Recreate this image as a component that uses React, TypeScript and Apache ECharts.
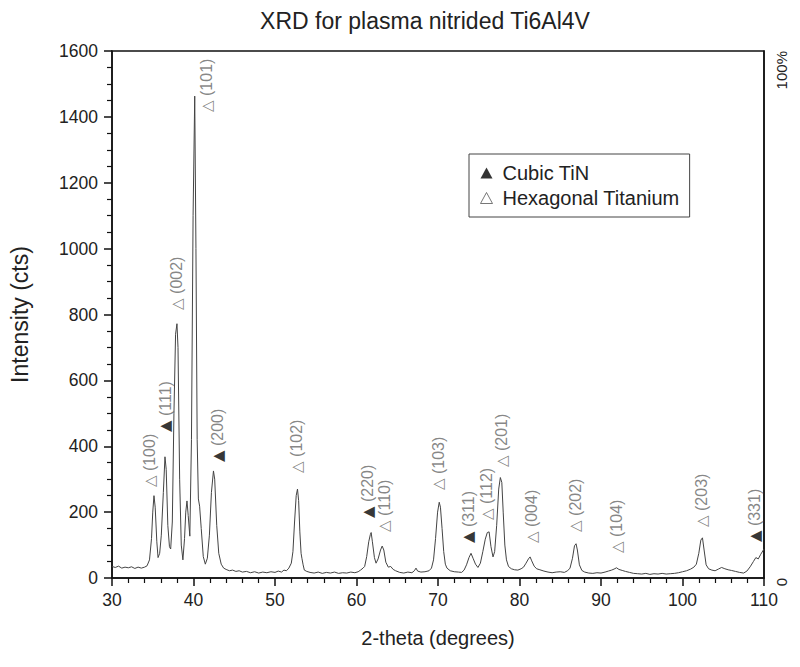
import React, { useEffect, useRef } from "react";
import * as echarts from "echarts";

// ---- Diffractogram (2-theta in degrees, intensity in counts) ----
const twoTheta = [
  30.0, 30.4, 30.8, 31.2, 31.6, 32.0, 32.4, 32.8, 33.2, 33.6, 34.0, 34.3, 34.6, 34.85, 35.0, 35.15, 35.3, 35.5, 35.65, 35.85,
  36.05, 36.3, 36.5, 36.65, 36.85, 37.05, 37.2, 37.4, 37.6, 37.8, 37.97, 38.1, 38.3, 38.5, 38.7, 38.9, 39.05, 39.2, 39.35, 39.55,
  39.75, 39.95, 40.15, 40.3, 40.45, 40.6, 40.75, 40.95, 41.2, 41.45, 41.7, 41.95, 42.2, 42.45, 42.6, 42.85, 43.1, 43.4, 43.7, 44.0,
  44.4, 44.8, 45.2, 45.6, 46.0, 46.5, 47.0, 47.5, 48.0, 48.5, 49.0, 49.5, 50.0, 50.4, 50.8, 51.1, 51.4, 51.7, 52.0, 52.2,
  52.4, 52.6, 52.76, 52.9, 53.05, 53.2, 53.3, 53.45, 53.6, 53.9, 54.3, 54.8, 55.3, 55.8, 56.3, 56.8, 57.3, 57.8, 58.3, 58.8,
  59.3, 59.8, 60.2, 60.5, 60.8, 61.0, 61.25, 61.5, 61.7, 61.8, 61.95, 62.2, 62.4, 62.65, 62.95, 63.15, 63.35, 63.6, 63.9, 64.2,
  64.5, 64.8, 65.3, 65.8, 66.3, 66.8, 67.1, 67.3, 67.5, 67.9, 68.4, 68.9, 69.2, 69.45, 69.7, 69.95, 70.15, 70.3, 70.5, 70.7,
  70.9, 71.1, 71.5, 72.0, 72.5, 72.9, 73.2, 73.5, 73.8, 74.05, 74.3, 74.6, 74.9, 75.2, 75.5, 75.8, 76.05, 76.27, 76.5, 76.75,
  76.95, 77.2, 77.45, 77.65, 77.83, 78.0, 78.2, 78.4, 78.65, 79.0, 79.4, 79.8, 80.2, 80.5, 80.8, 81.1, 81.3, 81.5, 81.8, 82.1,
  82.5, 83.0, 83.5, 84.0, 84.5, 85.0, 85.5, 85.9, 86.2, 86.5, 86.75, 86.94, 87.1, 87.35, 87.65, 88.0, 88.5, 89.0, 89.5, 90.0,
  90.5, 90.9, 91.3, 91.6, 91.9, 92.2, 92.6, 93.0, 93.5, 94.0, 94.5, 95.0, 95.5, 96.0, 96.5, 97.0, 97.5, 98.0, 98.5, 99.0,
  99.5, 100.0, 100.5, 101.0, 101.4, 101.7, 102.0, 102.25, 102.45, 102.65, 102.9, 103.2, 103.6, 104.0, 104.4, 104.8, 105.2, 105.6, 106.0, 106.5,
  107.0, 107.5, 107.9, 108.3, 108.7, 109.0, 109.3, 109.6, 110.0,
];
const counts = [
  35, 32, 36, 30, 33, 31, 34, 29, 33, 30, 33, 37, 55, 120, 200, 250, 215, 110, 62, 75,
  130, 260, 368, 330, 160, 95, 88, 170, 500, 740, 772, 700, 300, 100, 55, 120, 200, 234, 190, 127,
  420, 1100, 1463, 1000, 420, 240, 218, 150, 65, 42, 60, 130, 260, 325, 300, 160, 75, 42, 30, 26,
  22, 24, 20, 22, 18, 20, 16, 19, 15, 18, 16, 19, 17, 21, 18, 24, 22, 30, 45, 80,
  170, 250, 270, 235, 140, 75, 60, 40, 24, 20, 17, 15, 18, 14, 17, 15, 18, 14, 16, 15,
  18, 16, 19, 24, 30, 35, 65, 110, 132, 138, 110, 62, 45, 58, 85, 97, 85, 48, 33, 35,
  26, 22, 17, 15, 18, 16, 22, 30, 21, 18, 19, 22, 30, 55, 120, 200, 230, 215, 150, 80,
  42, 30, 22, 19, 18, 17, 24, 40, 62, 75, 60, 42, 32, 45, 80, 118, 138, 140, 95, 64,
  80, 160, 270, 305, 290, 200, 100, 55, 35, 28, 25, 24, 28, 33, 45, 58, 64, 52, 36, 28,
  25, 21, 18, 16, 18, 19, 17, 22, 30, 60, 98, 104, 85, 40, 23, 18, 15, 14, 16, 15,
  18, 21, 24, 27, 31, 26, 23, 20, 17, 14, 13, 12, 14, 11, 13, 12, 14, 12, 13, 14,
  16, 19, 22, 27, 33, 42, 75, 115, 122, 85, 40, 28, 24, 22, 27, 32, 28, 25, 23, 20,
  17, 15, 21, 34, 50, 62, 58, 72, 88,
];

// ---- Peak annotations (label base in data units) ----
const cubicTheta = [36.54, 42.95, 61.35, 73.74, 108.89];
const cubicLabelAt = [443, 352, 182, 106, 109];
const cubicLabels = ["(111)", "(200)", "(220)", "(311)", "(331)"];

const hexTheta = [34.61, 37.95, 41.6, 52.69, 63.43, 70.06, 75.99, 77.83, 81.51, 86.82, 91.93, 102.36];
const hexLabelAt = [276, 814, 1415, 319, 140, 267, 176, 337, 106, 140, 76, 155];
const hexLabels = ["(100)", "(002)", "(101)", "(102)", "(110)", "(103)", "(112)", "(201)", "(004)", "(202)", "(104)", "(203)"];

const xTicks = { min: 30, max: 110, interval: 10 };
const yTicks = { min: 0, max: 1600, interval: 200 };

const FONT = "Liberation Sans, Arial, sans-serif";
const AXIS_COLOR = "#111";
const LABEL_GRAY = "#666";

export default function App() {
  const ref = useRef<HTMLDivElement>(null);

  useEffect(() => {
    if (!ref.current) return;
    const chart = echarts.init(ref.current, null, { renderer: "svg" });

    const lineData = twoTheta.map((t, i) => [t, counts[i]]);

    const peakLabel = {
      show: true,
      position: "inside",
      rotate: 90,
      align: "left",
      verticalAlign: "middle",
      rich: {
        t: { color: "#000", fontSize: 15, fontFamily: "DejaVu Sans" },
        h: { color: LABEL_GRAY, fontSize: 15, fontFamily: "DejaVu Sans" },
        l: { color: LABEL_GRAY, fontSize: 16, fontFamily: FONT },
      },
    };

    const option: any = {
      animation: false,
      backgroundColor: "#fff",
      title: {
        text: "XRD for plasma nitrided Ti6Al4V",
        left: 420,
        top: 4,
        textAlign: "center",
        textStyle: { fontFamily: FONT, fontSize: 23, fontWeight: "normal", color: "#222" },
      },
      legend: {
        orient: "vertical",
        left: 469,
        top: 154,
        padding: [9, 10, 9, 11],
        borderColor: "#444",
        borderWidth: 1,
        itemWidth: 12,
        itemHeight: 11,
        itemGap: 5,
        selectedMode: false,
        textStyle: { fontFamily: FONT, fontSize: 20, color: "#222", padding: [0, 0, 0, 5] },
        data: [
          { name: "Cubic TiN", icon: "triangle", itemStyle: { color: "#000", borderWidth: 0 } },
          {
            name: "Hexagonal Titanium",
            icon: "triangle",
            itemStyle: { color: "#fff", borderColor: "#555", borderWidth: 1 },
          },
        ],
      },
      grid: {
        left: 112,
        right: 36,
        top: 51,
        bottom: 89,
        show: true,
        borderColor: AXIS_COLOR,
        borderWidth: 1.5,
        backgroundColor: "transparent",
      },
      xAxis: {
        type: "value",
        min: xTicks.min,
        max: xTicks.max,
        interval: xTicks.interval,
        name: "2-theta (degrees)",
        nameLocation: "middle",
        nameGap: 50,
        nameTextStyle: { fontFamily: FONT, fontSize: 20, color: "#222" },
        axisLine: { onZero: false, lineStyle: { color: AXIS_COLOR, width: 1.5 } },
        axisTick: { length: 8, lineStyle: { color: AXIS_COLOR, width: 1.5 } },
        minorTick: { show: true, splitNumber: 5, length: 5, lineStyle: { color: AXIS_COLOR, width: 1.2 } },
        splitLine: { show: false },
        axisLabel: { margin: 13, fontFamily: FONT, fontSize: 17.5, color: "#222" },
      },
      yAxis: [
        {
          type: "value",
          min: yTicks.min,
          max: yTicks.max,
          interval: yTicks.interval,
          name: "Intensity (cts)",
          nameLocation: "middle",
          nameGap: 81,
          nameTextStyle: { fontFamily: FONT, fontSize: 23, color: "#222" },
          axisLine: { show: true, lineStyle: { color: AXIS_COLOR, width: 1.5 } },
          axisTick: { length: 8, lineStyle: { color: AXIS_COLOR, width: 1.5 } },
          minorTick: { show: true, splitNumber: 4, length: 5, lineStyle: { color: AXIS_COLOR, width: 1.2 } },
          splitLine: { show: false },
          axisLabel: {
            margin: 14,
            fontFamily: FONT,
            fontSize: 17.5,
            color: "#222",
            formatter: (v: number) => String(v),
          },
        },
        {
          type: "value",
          position: "right",
          min: 0,
          max: 100,
          interval: 100,
          axisLine: { show: true, lineStyle: { color: AXIS_COLOR, width: 1.5 } },
          axisTick: { show: false },
          splitLine: { show: false },
          axisLabel: {
            rotate: 90,
            margin: 10,
            align: "right",
            verticalAlign: "top",
            showMinLabel: true,
            showMaxLabel: true,
            fontFamily: FONT,
            fontSize: 15,
            color: "#222",
            formatter: (v: number) => (v === 100 ? "100%" : "0"),
          },
        },
      ],
      series: [
        {
          type: "line",
          name: "XRD",
          data: lineData,
          showSymbol: false,
          symbol: "none",
          lineStyle: { color: "#444", width: 1 },
          z: 2,
          silent: true,
        },
        {
          type: "scatter",
          name: "Cubic TiN",
          symbolSize: 0,
          itemStyle: { color: "#000" },
          data: cubicTheta.map((t, i) => [t, cubicLabelAt[i]]),
          label: { ...peakLabel, formatter: (p: any) => `{t|▲}{l| ${cubicLabels[p.dataIndex]}}` },
          z: 3,
          silent: true,
        },
        {
          type: "scatter",
          name: "Hexagonal Titanium",
          symbolSize: 0,
          itemStyle: { color: "#fff" },
          data: hexTheta.map((t, i) => [t, hexLabelAt[i]]),
          label: { ...peakLabel, formatter: (p: any) => `{h|△}{l| ${hexLabels[p.dataIndex]}}` },
          z: 3,
          silent: true,
        },
      ],
    };

    chart.setOption(option);
    return () => chart.dispose();
  }, []);

  return (
    <div
      ref={ref}
      style={{ position: "absolute", left: 0, top: 0, width: 800, height: 667 }}
    />
  );
}
